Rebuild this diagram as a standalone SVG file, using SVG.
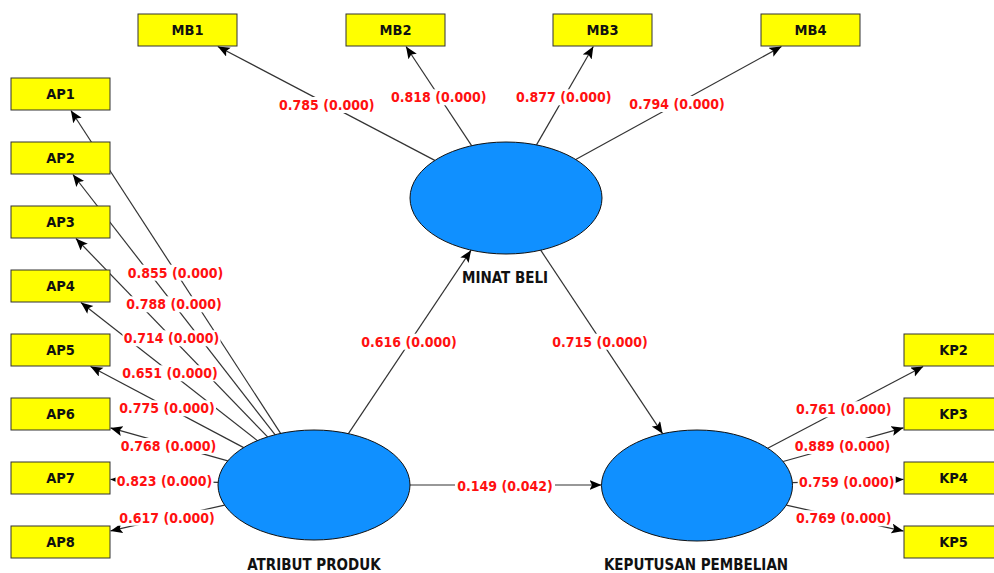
<svg xmlns="http://www.w3.org/2000/svg" width="994" height="573" viewBox="0 0 994 573">
<style>
.ln{stroke:#333;stroke-width:1.2;fill:none;marker-end:url(#ah)}
.box{fill:#ffff00;stroke:#333;stroke-width:1}
.lv{fill:#1090ff;stroke:#111;stroke-width:1}
.bt{font-family:"DejaVu Sans Condensed","DejaVu Sans",sans-serif;font-weight:bold;font-size:14.5px;fill:#111;text-anchor:middle}
.lt{font-family:"DejaVu Sans Condensed","DejaVu Sans",sans-serif;font-weight:bold;font-size:15px;fill:#111;text-anchor:middle}
.wt{font-family:"DejaVu Sans Condensed","DejaVu Sans",sans-serif;font-weight:bold;font-size:14px;fill:#ff1010;text-anchor:middle}
.bg{fill:#fff}
</style>
<defs>
<marker id="ah" markerUnits="userSpaceOnUse" markerWidth="13" markerHeight="11" refX="12" refY="5" orient="auto">
<path d="M0,0 L12,5 L0,10 L2.5,5 z" fill="#000"/>
</marker>
</defs>
<g id="connectors">
<line class="ln" x1="280.6" y1="433.4" x2="70.9" y2="110.5"/>
<line class="ln" x1="275.0" y1="434.7" x2="72.9" y2="174.5"/>
<line class="ln" x1="267.6" y1="436.9" x2="75.9" y2="238.5"/>
<line class="ln" x1="257.4" y1="440.6" x2="80.9" y2="302.5"/>
<line class="ln" x1="243.7" y1="447.6" x2="90.5" y2="366.5"/>
<line class="ln" x1="227.8" y1="460.9" x2="110.5" y2="427.9"/>
<line class="ln" x1="218.1" y1="482.4" x2="110.5" y2="479.4"/>
<line class="ln" x1="224.6" y1="505.1" x2="110.5" y2="530.9"/>
<line class="ln" x1="434.8" y1="160.4" x2="217.8" y2="46.5"/>
<line class="ln" x1="471.6" y1="145.7" x2="406" y2="46.5"/>
<line class="ln" x1="536.5" y1="144.9" x2="593.3" y2="46.5"/>
<line class="ln" x1="575.7" y1="159.5" x2="781.5" y2="46.5"/>
<line class="ln" x1="767.7" y1="448.2" x2="923.2" y2="366.5"/>
<line class="ln" x1="783.1" y1="461.5" x2="903.5" y2="427.8"/>
<line class="ln" x1="792.4" y1="482.7" x2="903.5" y2="479.4"/>
<line class="ln" x1="786.3" y1="505.2" x2="903.5" y2="531.1"/>
<line class="ln" x1="348.4" y1="433.6" x2="471.1" y2="250.2"/>
<line class="ln" x1="540.7" y1="250.2" x2="662.6" y2="433.7"/>
<line class="ln" x1="410" y1="485" x2="601.5" y2="485"/>
<g id="labels">
<rect class="bg" x="277.7" y="97" width="98" height="16"/><text class="wt" x="326.7" y="110">0.785 (0.000)</text>
<rect class="bg" x="389.7" y="89.3" width="98" height="16"/><text class="wt" x="438.7" y="102.3">0.818 (0.000)</text>
<rect class="bg" x="514.8" y="89.3" width="98" height="16"/><text class="wt" x="563.8" y="102.3">0.877 (0.000)</text>
<rect class="bg" x="628" y="96" width="98" height="16"/><text class="wt" x="677" y="109">0.794 (0.000)</text>
<rect class="bg" x="126.5" y="264.7" width="98" height="16"/><text class="wt" x="175.5" y="277.7">0.855 (0.000)</text>
<rect class="bg" x="125" y="296.3" width="98" height="16"/><text class="wt" x="174" y="309.3">0.788 (0.000)</text>
<rect class="bg" x="122.5" y="330.3" width="98" height="16"/><text class="wt" x="171.5" y="343.3">0.714 (0.000)</text>
<rect class="bg" x="121" y="365.3" width="98" height="16"/><text class="wt" x="170" y="378.3">0.651 (0.000)</text>
<rect class="bg" x="118" y="400.3" width="98" height="16"/><text class="wt" x="167" y="413.3">0.775 (0.000)</text>
<rect class="bg" x="119.5" y="438" width="98" height="16"/><text class="wt" x="168.5" y="451">0.768 (0.000)</text>
<rect class="bg" x="115.5" y="473" width="98" height="16"/><text class="wt" x="164.5" y="486">0.823 (0.000)</text>
<rect class="bg" x="118" y="509.7" width="98" height="16"/><text class="wt" x="167" y="522.7">0.617 (0.000)</text>
<rect class="bg" x="794.8" y="401.3" width="98" height="16"/><text class="wt" x="843.8" y="414.3">0.761 (0.000)</text>
<rect class="bg" x="793.5" y="438" width="98" height="16"/><text class="wt" x="842.5" y="451">0.889 (0.000)</text>
<rect class="bg" x="797.7" y="474.3" width="98" height="16"/><text class="wt" x="846.7" y="487.3">0.759 (0.000)</text>
<rect class="bg" x="794.8" y="510.3" width="98" height="16"/><text class="wt" x="843.8" y="523.3">0.769 (0.000)</text>
<rect class="bg" x="360" y="333.7" width="98" height="16"/><text class="wt" x="409" y="346.7">0.616 (0.000)</text>
<rect class="bg" x="551" y="333.7" width="98" height="16"/><text class="wt" x="600" y="346.7">0.715 (0.000)</text>
<rect class="bg" x="455" y="477.7" width="100" height="16"/><text class="wt" x="505" y="490.7">0.149 (0.042)</text>
</g>
</g>
<g id="MINAT_BELI"><ellipse class="lv" cx="506" cy="198" rx="96" ry="56"/><text class="lt" x="505" y="282.5">MINAT BELI</text></g>
<g id="ATRIBUT_PRODUK"><ellipse class="lv" cx="314" cy="485" rx="96" ry="55"/><text class="lt" x="314" y="570">ATRIBUT PRODUK</text></g>
<g id="KEPUTUSAN_PEMBELIAN"><ellipse class="lv" cx="697" cy="485.5" rx="95.5" ry="55.5"/><text class="lt" x="696" y="570">KEPUTUSAN PEMBELIAN</text></g>
<g id="MB1"><rect class="box" x="138" y="14" width="99" height="32"/><text class="bt" x="187.5" y="35">MB1</text></g>
<g id="MB2"><rect class="box" x="346" y="14" width="99" height="32"/><text class="bt" x="395.5" y="35">MB2</text></g>
<g id="MB3"><rect class="box" x="553" y="14" width="99" height="32"/><text class="bt" x="602.5" y="35">MB3</text></g>
<g id="MB4"><rect class="box" x="761" y="14" width="99" height="32"/><text class="bt" x="810.5" y="35">MB4</text></g>
<g id="AP1"><rect class="box" x="11" y="78" width="99" height="32"/><text class="bt" x="60.5" y="99">AP1</text></g>
<g id="AP2"><rect class="box" x="11" y="142" width="99" height="32"/><text class="bt" x="60.5" y="163">AP2</text></g>
<g id="AP3"><rect class="box" x="11" y="206" width="99" height="32"/><text class="bt" x="60.5" y="227">AP3</text></g>
<g id="AP4"><rect class="box" x="11" y="270" width="99" height="32"/><text class="bt" x="60.5" y="291">AP4</text></g>
<g id="AP5"><rect class="box" x="11" y="334" width="99" height="32"/><text class="bt" x="60.5" y="355">AP5</text></g>
<g id="AP6"><rect class="box" x="11" y="398" width="99" height="32"/><text class="bt" x="60.5" y="419">AP6</text></g>
<g id="AP7"><rect class="box" x="11" y="462" width="99" height="32"/><text class="bt" x="60.5" y="483">AP7</text></g>
<g id="AP8"><rect class="box" x="11" y="526" width="99" height="32"/><text class="bt" x="60.5" y="547">AP8</text></g>
<g id="KP2"><rect class="box" x="904" y="334" width="99" height="32"/><text class="bt" x="953.5" y="355">KP2</text></g>
<g id="KP3"><rect class="box" x="904" y="398" width="99" height="32"/><text class="bt" x="953.5" y="419">KP3</text></g>
<g id="KP4"><rect class="box" x="904" y="462" width="99" height="32"/><text class="bt" x="953.5" y="483">KP4</text></g>
<g id="KP5"><rect class="box" x="904" y="526" width="99" height="32"/><text class="bt" x="953.5" y="547">KP5</text></g>
</svg>
